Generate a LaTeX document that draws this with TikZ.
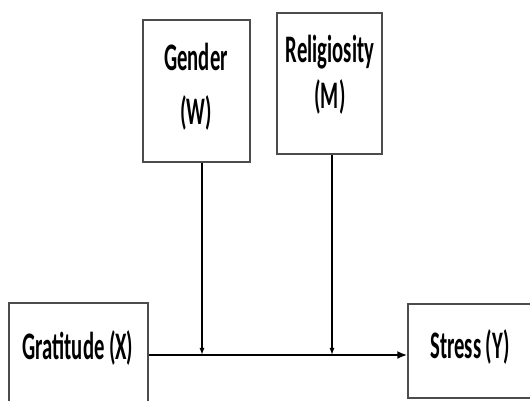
\documentclass[tikz,border=0pt]{standalone}
\usepackage{fontspec}
\setmainfont{Carlito}
\usetikzlibrary{arrows.meta}
\definecolor{boxgray}{rgb}{0.3,0.3,0.3}

\begin{document}
\begin{tikzpicture}[x=1pt,y=1pt,
    box/.style={draw=boxgray, line width=1.4pt, inner sep=0pt},
    lbl/.style={font=\bfseries\fontsize{39}{54}\selectfont, align=center, xscale=0.53, inner sep=0pt},
    modarr/.style={-{Latex[length=7pt,width=5pt]}, line width=1.3pt},
    mainarr/.style={-{Latex[length=10pt,width=8pt]}, line width=2.4pt}]
  \useasboundingbox (0,0) rectangle (530,401);
  \clip (0,0) rectangle (530,401);
  \node [box, minimum width=107, minimum height=142] (gender) at (196.5,310) {};
  \node [box, minimum width=105, minimum height=141] (religiosity) at (329.5,317.5) {};
  \node [box, minimum width=139, minimum height=104] (gratitude) at (78.5,46) {};
  \node [box, minimum width=170, minimum height=94] (stress) at (493,50) {};
  \node [lbl] (gendertext) at (196,314) {Gender\\(W)};
  \node [lbl, font=\bfseries\fontsize{39}{46}\selectfont] (religiositytext) at (330,326) {Religiosity\\(M)};
  \node [lbl] (gratitudetext) at (78,53) {Gratitude (X)};
  \node [lbl] (stresstext) at (470,54) {Stress (Y)};
  \coordinate (wpt) at (202,46);
  \coordinate (mpt) at (332,46);
  \draw [mainarr] (gratitude.east) -- (stress.west |- gratitude.east);
  \draw [modarr] (gender.south -| wpt) -- (wpt);
  \draw [modarr] (religiosity.south -| mpt) -- (mpt);
\end{tikzpicture}
\end{document}
